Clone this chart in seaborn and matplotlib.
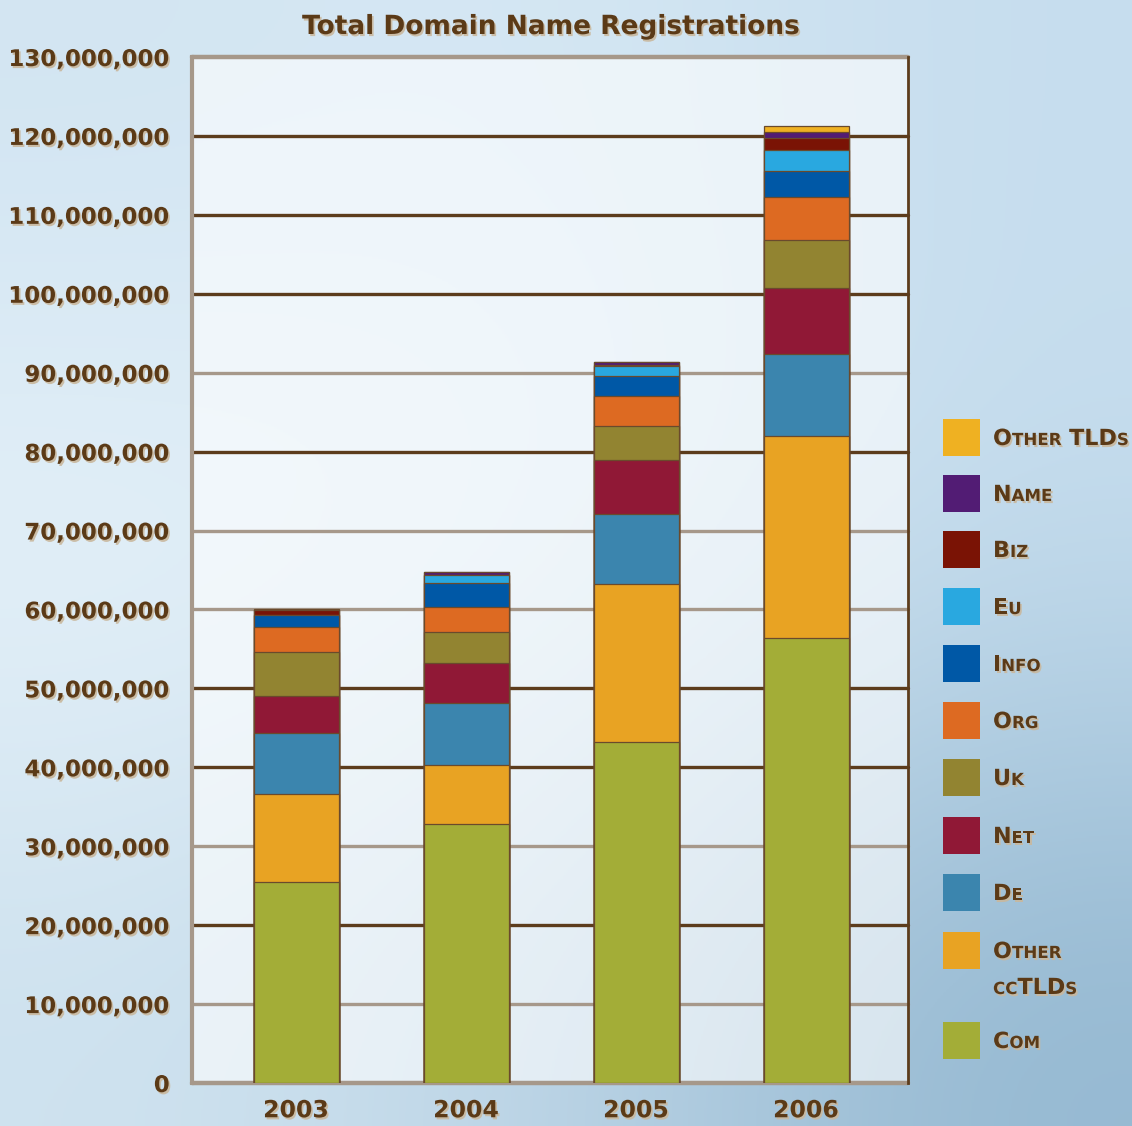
import numpy as np
import pandas as pd
import matplotlib
matplotlib.use("Agg")
import matplotlib.pyplot as plt
import matplotlib.patheffects as pe
from matplotlib.offsetbox import TextArea, HPacker, AnnotationBbox
from matplotlib.patches import Rectangle
import seaborn as sns

# Registrations per year, in millions (bottom segment first)
years = ["2003", "2004", "2005", "2006"]
com = [25.5, 32.8, 43.2, 56.4]
other_cctlds = [11.1, 7.5, 20.0, 25.6]
de = [7.8, 7.9, 8.9, 10.4]
net = [4.6, 5.0, 6.8, 8.3]
uk = [5.6, 4.0, 4.4, 6.1]
org = [3.2, 3.1, 3.8, 5.4]
info = [1.5, 3.0, 2.5, 3.4]
eu = [0.0, 1.05, 1.3, 2.6]
biz = [0.6, 0.05, 0.1, 1.6]
name = [0.05, 0.3, 0.3, 0.65]
other_tlds = [0.05, 0.05, 0.05, 0.75]

series_names = ["Com", "Other ccTLDs", "De", "Net", "Uk", "Org",
                "Info", "Eu", "Biz", "Name", "Other TLDs"]
series_colors = ["#a3ad37", "#e8a323", "#3b85ae", "#901836", "#928431", "#dd6a22",
                 "#0058a6", "#29a8e0", "#7a1305", "#521c74", "#efb122"]

ytick_values = list(range(0, 130_000_001, 10_000_000))
title = "Total Domain Name Registrations"

TEXT = "#5b3a17"
DARK = "#5c3c1c"
LIGHT = "#a6988a"
W, H = 1132, 1126


def fx(px):
    return px / W


def fy(py):
    return 1 - py / H


shadow = [pe.SimplePatchShadow(offset=(1.2, -1.5), shadow_rgbFace="#c9b89e", alpha=0.9),
          pe.Normal()]


def small_caps(label, big=16, small=12):
    # group runs of upper / lower case into TextAreas of two sizes
    runs = []
    for ch in label:
        low = ch.islower()
        if runs and runs[-1][0] == low:
            runs[-1][1] += ch
        else:
            runs.append([low, ch])
    kids = []
    for low, txt in runs:
        kids.append(TextArea(txt.upper() if low else txt,
                             textprops=dict(fontsize=small if low else big,
                                            fontweight="bold", color=TEXT,
                                            path_effects=shadow)))
    return HPacker(children=kids, align="baseline", pad=0, sep=0)


data = dict(zip(series_names, [com, other_cctlds, de, net, uk, org,
                               info, eu, biz, name, other_tlds]))
df = pd.DataFrame(data, index=years) * 1e6
cum = df.cumsum(axis=1)

sns.set_style("white")
plt.rcParams["font.family"] = ["DejaVu Sans"]

fig = plt.figure(figsize=(W / 100, H / 100), dpi=100)

# background gradient
bg = fig.add_axes([0, 0, 1, 1], zorder=-10)
grad = np.array([
    [[210, 229, 242], [214, 232, 244], [198, 221, 238]],
    [[232, 243, 250], [224, 238, 247], [196, 220, 237]],
    [[206, 226, 239], [186, 211, 229], [148, 184, 209]],
]) / 255
bg.imshow(grad, aspect="auto", interpolation="bicubic", extent=[0, 1, 0, 1])
bg.axis("off")

ax = fig.add_axes([fx(192), fy(1083), fx(908) - fx(192), fy(57) - fy(1083)])
ax.set_facecolor((1, 1, 1, 0.6))

# stacked bars: draw cumulative totals from the top segment down
for s, c in reversed(list(zip(series_names, series_colors))):
    sns.barplot(x=years, y=cum[s].values, color=c, width=0.5, saturation=1,
                edgecolor="#6a4a2c", linewidth=0.9, errorbar=None, ax=ax, zorder=3)

dark_lines = {20, 40, 50, 80, 100, 110, 120}
for v in ytick_values:
    m = v // 1_000_000
    ax.axhline(v, color=DARK if m in dark_lines else LIGHT,
               lw=3.2 if m in (0, 130) else 2.4, zorder=1, clip_on=False)

ax.set_ylim(0, 130_000_000)
ax.set_xlim(-0.612, 3.6)
ax.set_yticks(ytick_values)
ax.set_yticklabels([f"{v:,}" for v in ytick_values])
ax.set_xticks(range(len(years)))
ax.set_xticklabels(years)
ax.set_xlabel("")
ax.set_ylabel("")
ax.tick_params(axis="y", length=0, pad=16, labelsize=16.5, labelcolor=TEXT)
ax.tick_params(axis="x", length=0, pad=11, labelsize=17, labelcolor=TEXT)
for lab in ax.get_yticklabels() + ax.get_xticklabels():
    lab.set_fontweight("bold")
    lab.set_path_effects(shadow)

ax.spines["top"].set_visible(False)
ax.spines["bottom"].set_visible(False)
ax.spines["left"].set_color(LIGHT)
ax.spines["left"].set_linewidth(3)
ax.spines["right"].set_color(DARK)
ax.spines["right"].set_linewidth(2)

fig.text(fx(551), fy(27), title, ha="center", va="center", fontsize=19,
         fontweight="bold", color=TEXT, path_effects=shadow)

# legend, top entry first
legend_rows = [("Other TLDs", 437), ("Name", 493), ("Biz", 549), ("Eu", 606),
               ("Info", 663), ("Org", 720), ("Uk", 777), ("Net", 835),
               ("De", 892), ("Other ccTLDs", 950), ("Com", 1040)]
color_of = dict(zip(series_names, series_colors))
for lab, yc in legend_rows:
    fig.add_artist(Rectangle((fx(943), fy(yc + 18.5)), fx(37), 37 / H,
                             transform=fig.transFigure, facecolor=color_of[lab],
                             edgecolor="none"))
    lines = lab.split(" ") if lab == "Other ccTLDs" else [lab]
    for i, line in enumerate(lines):
        ab = AnnotationBbox(small_caps(line), (fx(993), fy(yc + 2 + 36 * i)),
                            xycoords="figure fraction", box_alignment=(0, 0.5),
                            frameon=False, pad=0)
        fig.add_artist(ab)

fig.savefig("out.png", dpi=100)
